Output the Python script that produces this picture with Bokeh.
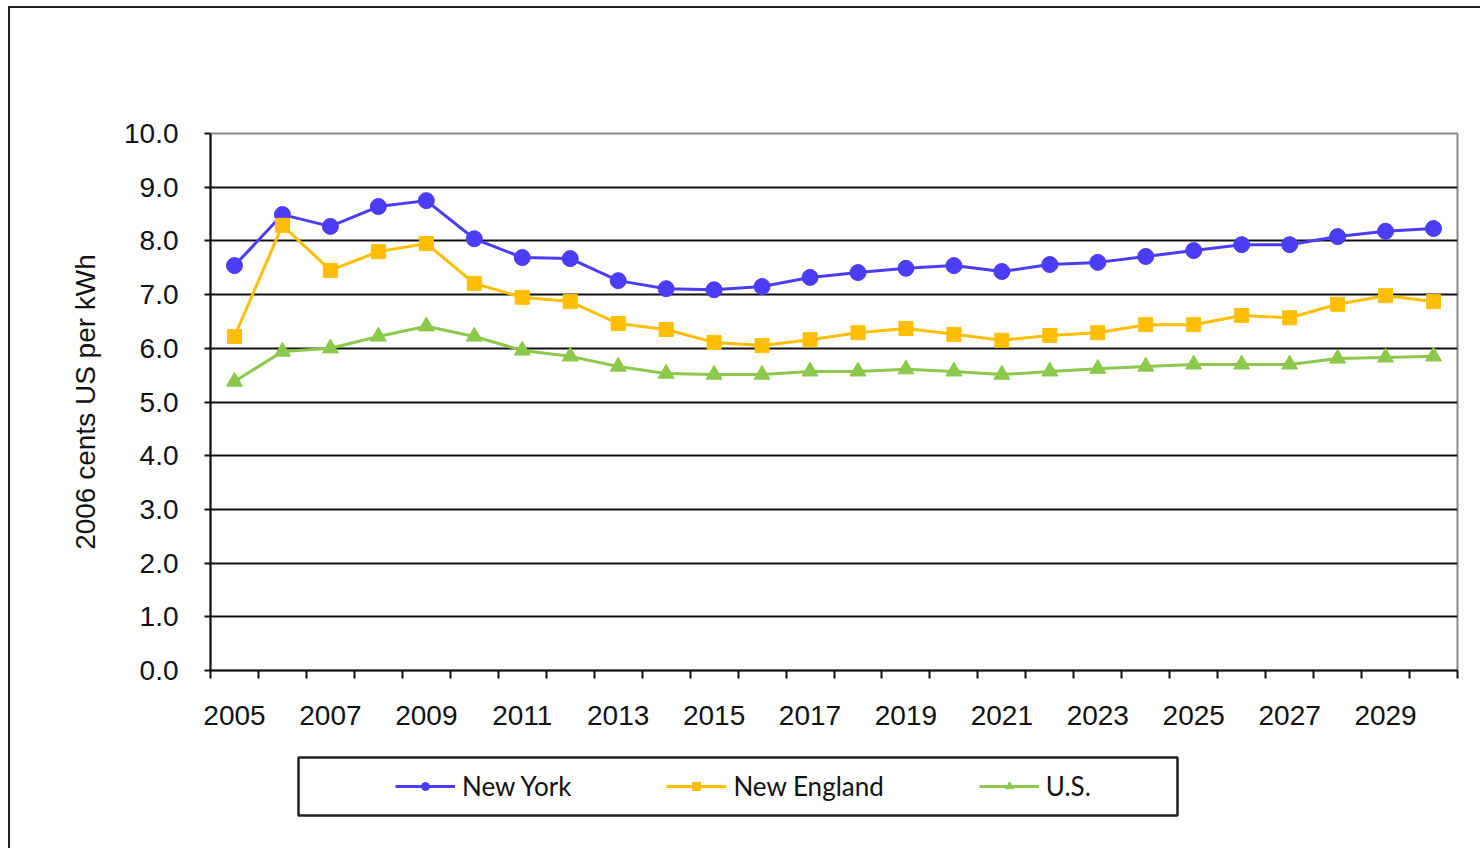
from bokeh.plotting import figure
from bokeh.layouts import column
from bokeh.models import Range1d, FixedTicker, PrintfTickFormatter, Legend, LegendItem, BoxAnnotation
from bokeh.embed import file_html
from bokeh.resources import INLINE

years = list(range(2005, 2031))
new_york = [7.54, 8.49, 8.27, 8.64, 8.75, 8.04, 7.69, 7.67, 7.26, 7.11, 7.09, 7.15, 7.32,
            7.41, 7.49, 7.54, 7.43, 7.56, 7.60, 7.71, 7.82, 7.93, 7.93, 8.08, 8.18, 8.23]
new_england = [6.22, 8.29, 7.45, 7.80, 7.95, 7.21, 6.95, 6.87, 6.46, 6.35, 6.11, 6.05, 6.16,
               6.29, 6.37, 6.26, 6.15, 6.24, 6.29, 6.44, 6.44, 6.61, 6.57, 6.82, 6.98, 6.87]
us = [5.38, 5.94, 6.00, 6.22, 6.41, 6.22, 5.96, 5.85, 5.66, 5.53, 5.51, 5.51, 5.57,
      5.57, 5.61, 5.57, 5.51, 5.57, 5.62, 5.66, 5.70, 5.70, 5.70, 5.81, 5.83, 5.85]
y_ticks = [0, 1, 2, 3, 4, 5, 6, 7, 8, 9, 10]
x_label_years = list(range(2005, 2030, 2))
y_label = "2006 cents US per kWh"
series_names = ["New York", "New England", "U.S."]

c_ny = "#4A3DF5"
c_ne = "#FFBE00"
c_us = "#8CC84B"
ink = "#111111"

W = 1470
BL, BR = 200, W - 200 - 1247
p = figure(width=W, height=732, output_backend="svg", toolbar_location=None,
           x_range=Range1d(years[0] - 0.5, years[-1] + 0.5), y_range=Range1d(0, 10),
           min_border_left=BL, min_border_top=125, min_border_right=BR,
           min_border_bottom=732 - 125 - 537)
p.background_fill_color = "white"
p.border_fill_color = "white"
p.outline_line_color = "#8a8a8a"
p.outline_line_width = 2

# axes
p.yaxis.ticker = FixedTicker(ticks=y_ticks, minor_ticks=[])
p.yaxis.formatter = PrintfTickFormatter(format="%.1f")
p.yaxis.major_tick_out = 6
p.yaxis.major_tick_in = 0
p.yaxis.minor_tick_out = 0
p.yaxis.minor_tick_in = 0
p.yaxis.major_tick_line_width = 2
p.yaxis.axis_line_width = 2
p.yaxis.axis_line_color = ink
p.yaxis.major_tick_line_color = ink
p.yaxis.major_label_standoff = 26
p.yaxis.axis_label = y_label
p.yaxis.axis_label_text_font = "Liberation Sans"
p.yaxis.axis_label_text_font_size = "28px"
p.yaxis.axis_label_text_font_style = "normal"
p.yaxis.axis_label_text_color = ink
p.yaxis.axis_label_standoff = 20

boundaries = [y - 0.5 for y in years] + [years[-1] + 0.5]
p.xaxis.ticker = FixedTicker(ticks=x_label_years, minor_ticks=boundaries)
p.xaxis.major_tick_out = 0
p.xaxis.major_tick_in = 0
p.xaxis.minor_tick_out = 8
p.xaxis.minor_tick_in = 0
p.xaxis.minor_tick_line_width = 2
p.xaxis.minor_tick_line_color = ink
p.xaxis.axis_line_width = 2
p.xaxis.axis_line_color = ink
p.xaxis.major_label_standoff = 27

for ax in (p.xaxis, p.yaxis):
    ax.major_label_text_font = "Liberation Sans"
    ax.major_label_text_font_size = "28px"
    ax.major_label_text_color = ink

p.xgrid.visible = False
p.ygrid.ticker = FixedTicker(ticks=y_ticks[:-1], minor_ticks=[])
p.ygrid.grid_line_color = ink
p.ygrid.grid_line_width = 2

# series
p.line(years, new_york, line_color=c_ny, line_width=3)
p.scatter(years, new_york, marker="circle", size=16, fill_color=c_ny, line_color=c_ny)
p.line(years, new_england, line_color=c_ne, line_width=3)
p.scatter(years, new_england, marker="square", size=14, fill_color=c_ne, line_color=c_ne)
p.line(years, us, line_color=c_us, line_width=3)
p.scatter(years, us, marker="triangle", size=16, fill_color=c_us, line_color=c_us)

# legend panel below the chart
LH = 108
lp = figure(width=W, height=LH, output_backend="svg", toolbar_location=None,
            x_range=Range1d(0, 1), y_range=Range1d(-0.05, 1.05),
            min_border_left=BL, min_border_right=BR,
            min_border_top=14, min_border_bottom=LH - 14 - 64)
lp.axis.visible = False
lp.grid.visible = False
lp.outline_line_alpha = 0
lp.background_fill_color = "white"
lp.border_fill_color = "white"

series = [new_york, new_england, us]
r = []
for i, (c, m) in enumerate(((c_ny, "circle"), (c_ne, "square"), (c_us, "triangle"))):
    # one point placed outside this panel's range: only its legend glyph is seen
    ln = lp.line(x=[years[0]], y=[series[i][0]], line_color=c, line_width=3)
    sc = lp.scatter(x=[years[0]], y=[series[i][0]], marker=m, size=13, fill_color=c, line_color=c)
    r.append([ln, sc])

box = BoxAnnotation(left=88, right=967, left_units="screen", right_units="screen",
                    bottom=0, top=1, fill_alpha=0, line_color="#222222", line_alpha=1,
                    line_width=2.5)
lp.add_layout(box)

legend = Legend(items=[LegendItem(label=series_names[i], renderers=r[i]) for i in range(3)],
                orientation="horizontal", location=(175, 6),
                border_line_alpha=0, background_fill_alpha=0,
                label_text_font="Lato", label_text_font_size="26px", label_text_color=ink,
                glyph_width=60, glyph_height=20, label_standoff=7, spacing=95,
                padding=10, margin=0)
lp.add_layout(legend)

layout = column(p, lp, spacing=0,
                styles={"margin-left": "8px", "margin-top": "6px",
                        "border-left": "2px solid #222222", "border-top": "2px solid #222222"})

open("out.html", "w").write(file_html(layout, INLINE))
